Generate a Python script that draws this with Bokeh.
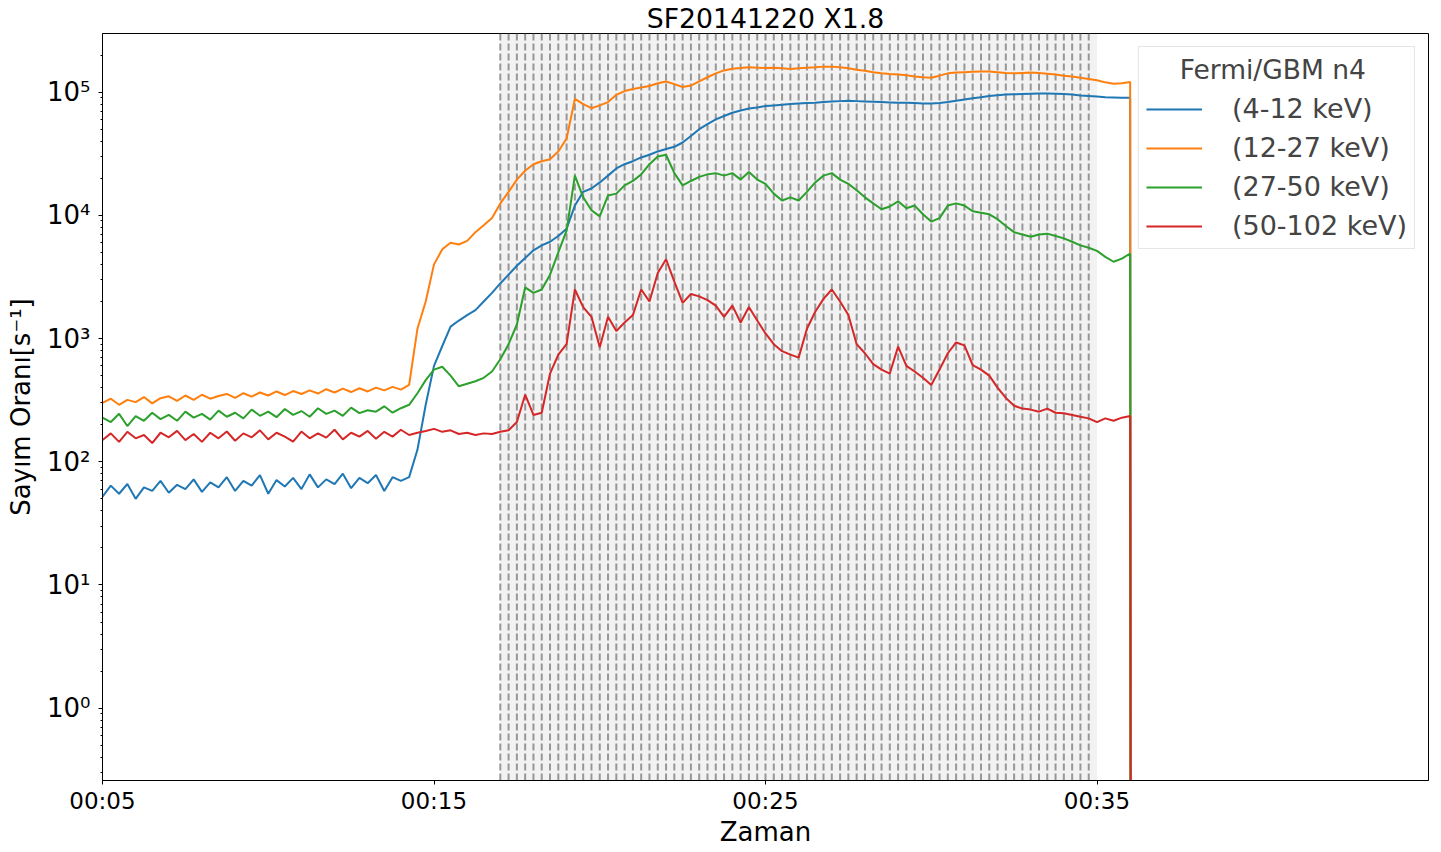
import pandas as pd
from bokeh.plotting import figure
from bokeh.models import (Range1d, FixedTicker, DatetimeTickFormatter, CustomJSTickFormatter,
                          BoxAnnotation, Span)
from bokeh.embed import file_html
from bokeh.resources import INLINE

# ---------------- data ----------------
title_text = "SF20141220 X1.8"
x_label = "Zaman"
y_label = "Sayım Oranı[s⁻¹]"
legend_title = "Fermi/GBM n4"
series_labels = ["(4-12 keV)", "(12-27 keV)", "(27-50 keV)", "(50-102 keV)"]
series_colors = ["#1f77b4", "#ff7f0e", "#2ca02c", "#d62728"]

t_first = "2014-12-20 00:05:00"
t_last = "2014-12-20 00:36:00"
t_cut = "2014-12-20 00:36:01"
times = list(pd.date_range(t_first, t_last, freq="15s")) + [pd.Timestamp(t_cut)]

rate_4_12 = [52, 64, 55, 66, 50, 62, 58, 70, 56, 65, 60, 72, 57, 68, 62, 75, 58, 70, 64, 78,
             55, 71, 63, 74, 60, 79, 62, 72, 66, 80, 61, 74, 67, 78, 58, 75, 70,
             75, 125, 290, 600, 870, 1250, 1400, 1550, 1700, 2000, 2350, 2800,
             3300, 3900, 4500, 5200, 5700, 6100, 6800, 7800, 12000, 15500, 16500, 18500,
             21000, 24000, 26000, 27500, 29500, 31000, 33000, 34500, 36000, 39000, 44000, 50000,
             55000, 60000, 64000, 68000, 71000, 73500, 75000, 77000, 78000, 79000, 80000, 81000,
             81500, 82000, 83000, 84000, 84500, 85000, 84500, 84000, 83500, 83000, 82500, 82000,
             82000, 81500, 81000, 81000, 81500, 83000, 85000, 87000, 89000, 91000, 93000, 94500,
             95500, 96000, 96500, 97000, 97500, 97500, 97000, 96500, 95500, 94000, 93000, 92000,
             91000, 90500, 90000, 90000, 0.05]

rate_12_27 = [300, 325, 290, 318, 305, 335, 298, 328, 340, 312, 345, 318, 350, 325, 342, 355, 330, 360, 338, 365,
              345, 372, 348, 375, 355, 380, 358, 388, 365, 392, 368, 395, 372, 400, 380, 405, 385,
              420, 1200, 2000, 4000, 5300, 6000, 5800, 6200, 7300, 8300, 9500, 12500,
              15500, 19500, 23000, 26000, 27500, 28500, 33000, 42000, 88000, 80000, 74000, 78000,
              83000, 95000, 102000, 106000, 109000, 112000, 118000, 122000, 116000, 110000, 113000, 122000,
              132000, 142000, 150000, 155000, 157000, 159000, 158000, 157000, 158000, 156000, 154000, 156000,
              158000, 159000, 161000, 161000, 159000, 156000, 152000, 149000, 145000, 142000, 140000, 139000,
              137000, 134000, 132000, 131000, 136000, 142000, 144000, 145000, 146000, 147000, 147000, 145000,
              143000, 142000, 143000, 144000, 143000, 141000, 139000, 136000, 134000, 131000, 128000, 125000,
              120000, 117000, 118000, 121000, 0.05]

rate_27_50 = [228, 210, 245, 195, 235, 215, 250, 222, 240, 215, 255, 228, 245, 220, 260, 232, 250, 225, 265, 236,
              255, 230, 268, 240, 258, 232, 272, 245, 260, 236, 275, 248, 262, 255, 282, 250, 272,
              290, 360, 460, 560, 590, 500, 410, 430, 450, 480, 540, 680,
              900, 1300, 2600, 2350, 2500, 3300, 5000, 7500, 21000, 14000, 11000, 9800,
              14500, 15000, 17500, 19000, 21500, 26000, 30000, 31000, 22000, 17500, 19000, 20500,
              21500, 22000, 21000, 22000, 19500, 22500, 19500, 18000, 15000, 13200, 14000, 13200,
              15500, 18500, 21000, 22000, 19500, 18000, 16000, 14000, 12500, 11200, 11800, 13000,
              11400, 12000, 10200, 8900, 9500, 12000, 12500, 12000, 10800, 10500, 10200, 9300,
              8200, 7300, 7000, 6700, 7000, 7100, 6800, 6500, 6100, 5700, 5450, 5150,
              4600, 4200, 4450, 4900, 0.05]

rate_50_102 = [150, 170, 145, 175, 155, 165, 142, 172, 158, 178, 150, 168, 145, 172, 155, 176, 148, 170, 158, 180,
               152, 172, 160, 146, 176, 155, 170, 157, 182, 152, 172, 160, 178, 154, 175, 160, 182,
               165, 172, 178, 185, 175, 180, 168, 172, 165, 170, 168, 175,
               180, 210, 350, 240, 250, 520, 740, 900, 2500, 1800, 1500, 850,
               1500, 1150, 1350, 1550, 2500, 2000, 3400, 4400, 2900, 1950, 2300, 2200,
               2050, 1850, 1500, 1850, 1350, 1800, 1400, 1100, 900, 790, 740, 700,
               1200, 1650, 2100, 2500, 2000, 1550, 900, 760, 620, 560, 520, 860,
               600, 540, 480, 420, 560, 760, 930, 880, 610, 560, 500, 400,
               330, 285, 270, 265, 255, 270, 250, 248, 240, 232, 225, 210,
               225, 215, 228, 235, 0.05]

series = [rate_4_12, rate_12_27, rate_27_50, rate_50_102]

# analysis interval (shaded) and its 15 s sub-interval edges
interval_start = "2014-12-20 00:17:00"
interval_end = "2014-12-20 00:35:00"
interval_last_edge = "2014-12-20 00:34:45"
interval_edges = list(pd.date_range(interval_start, interval_last_edge, freq="15s"))

x_tick_times = ["2014-12-20 00:05:00", "2014-12-20 00:15:00", "2014-12-20 00:25:00", "2014-12-20 00:35:00"]
x_start, x_end = "2014-12-20 00:05:00", "2014-12-20 00:45:00"
y_major = [1, 10, 100, 1000, 10000, 100000]
y_start, y_end = 0.259, 2.99e5


def ms(t):
    return pd.Timestamp(t).value / 1e6


FONT = "DejaVu Sans"

p = figure(width=1433, height=849, x_axis_type="datetime", y_axis_type="log",
           x_range=Range1d(ms(x_start), ms(x_end)), y_range=Range1d(y_start, y_end),
           output_backend="svg", toolbar_location=None,
           min_border_left=102, min_border_right=5, min_border_top=33, min_border_bottom=0)

p.grid.visible = False
p.outline_line_color = "black"
p.outline_line_width = 1
p.outline_line_alpha = 1
p.background_fill_color = "white"
p.border_fill_color = "white"

p.title.text = title_text
p.title.align = "center"
p.title.text_font = FONT
p.title.text_font_size = "26.7px"
p.title.text_font_style = "normal"
p.title.text_color = "black"
p.title.standoff = 0

# shaded interval
p.add_layout(BoxAnnotation(left=ms(interval_start), right=ms(interval_end),
                           fill_color="gray", fill_alpha=0.1, line_alpha=0, level="underlay"))
for e in interval_edges:
    p.add_layout(Span(location=ms(e), dimension="height", line_color="gray", line_alpha=0.8,
                      line_width=2, line_dash="7 3", level="underlay"))

tx = pd.to_datetime(pd.Series(times))
for vals, lab, col in zip(series, series_labels, series_colors):
    p.line(x=tx, y=vals, line_color=col, line_width=2, legend_label=lab)

# axes
minor = [m * 10 ** k for k in range(-1, 6) for m in range(2, 10) if y_start <= m * 10 ** k <= y_end]
p.yaxis.ticker = FixedTicker(ticks=y_major, minor_ticks=minor)
p.yaxis.formatter = CustomJSTickFormatter(code="""
const sup = {"-":"\u207b","0":"\u2070","1":"\u00b9","2":"\u00b2","3":"\u00b3","4":"\u2074",
             "5":"\u2075","6":"\u2076","7":"\u2077","8":"\u2078","9":"\u2079"};
const e = Math.round(Math.log10(tick));
return "10" + String(e).split("").map(c => sup[c]).join("");
""")
p.xaxis.ticker = FixedTicker(ticks=[ms(t) for t in x_tick_times], minor_ticks=[])
fmt = "%H:%M"
p.xaxis.formatter = DatetimeTickFormatter(seconds=fmt, minsec=fmt, minutes=fmt, hourmin=fmt, hours=fmt)

for ax in p.axis:
    ax.axis_line_color = "black"
    ax.major_tick_line_color = "black"
    ax.minor_tick_line_color = "black"
    ax.major_tick_in = 0
    ax.major_tick_out = 4
    ax.minor_tick_in = 0
    ax.minor_tick_out = 2
    ax.major_label_text_font = FONT
    ax.axis_label_text_font = FONT
    ax.axis_label_text_font_style = "normal"
    ax.axis_label_text_color = "black"
    ax.major_label_text_color = "black"

p.xaxis.axis_label = x_label
p.xaxis.major_label_text_font_size = "23px"
p.xaxis.axis_label_text_font_size = "26px"
p.xaxis.major_label_standoff = 3
p.xaxis.axis_label_standoff = 0

p.yaxis.axis_label = y_label
p.yaxis.major_label_text_font_size = "26px"
p.yaxis.axis_label_text_font_size = "26px"
p.yaxis.major_label_standoff = 8
p.yaxis.axis_label_standoff = 8

lg = p.legend[0]
lg.location = "top_right"
lg.margin = 13
lg.padding = 7
lg.spacing = 8
lg.glyph_width = 56
lg.glyph_height = 20
lg.label_standoff = 30
lg.label_text_font = FONT
lg.label_text_font_size = "27px"
lg.title = "\u00a0\u00a0\u00a0\u00a0" + legend_title
lg.title_text_font = FONT
lg.title_text_font_size = "26.5px"
lg.title_text_font_style = "normal"
lg.title_standoff = 8
lg.border_line_color = "#cccccc"
lg.border_line_width = 1
lg.background_fill_alpha = 0.8

open("out.html", "w").write(file_html(p, INLINE))
